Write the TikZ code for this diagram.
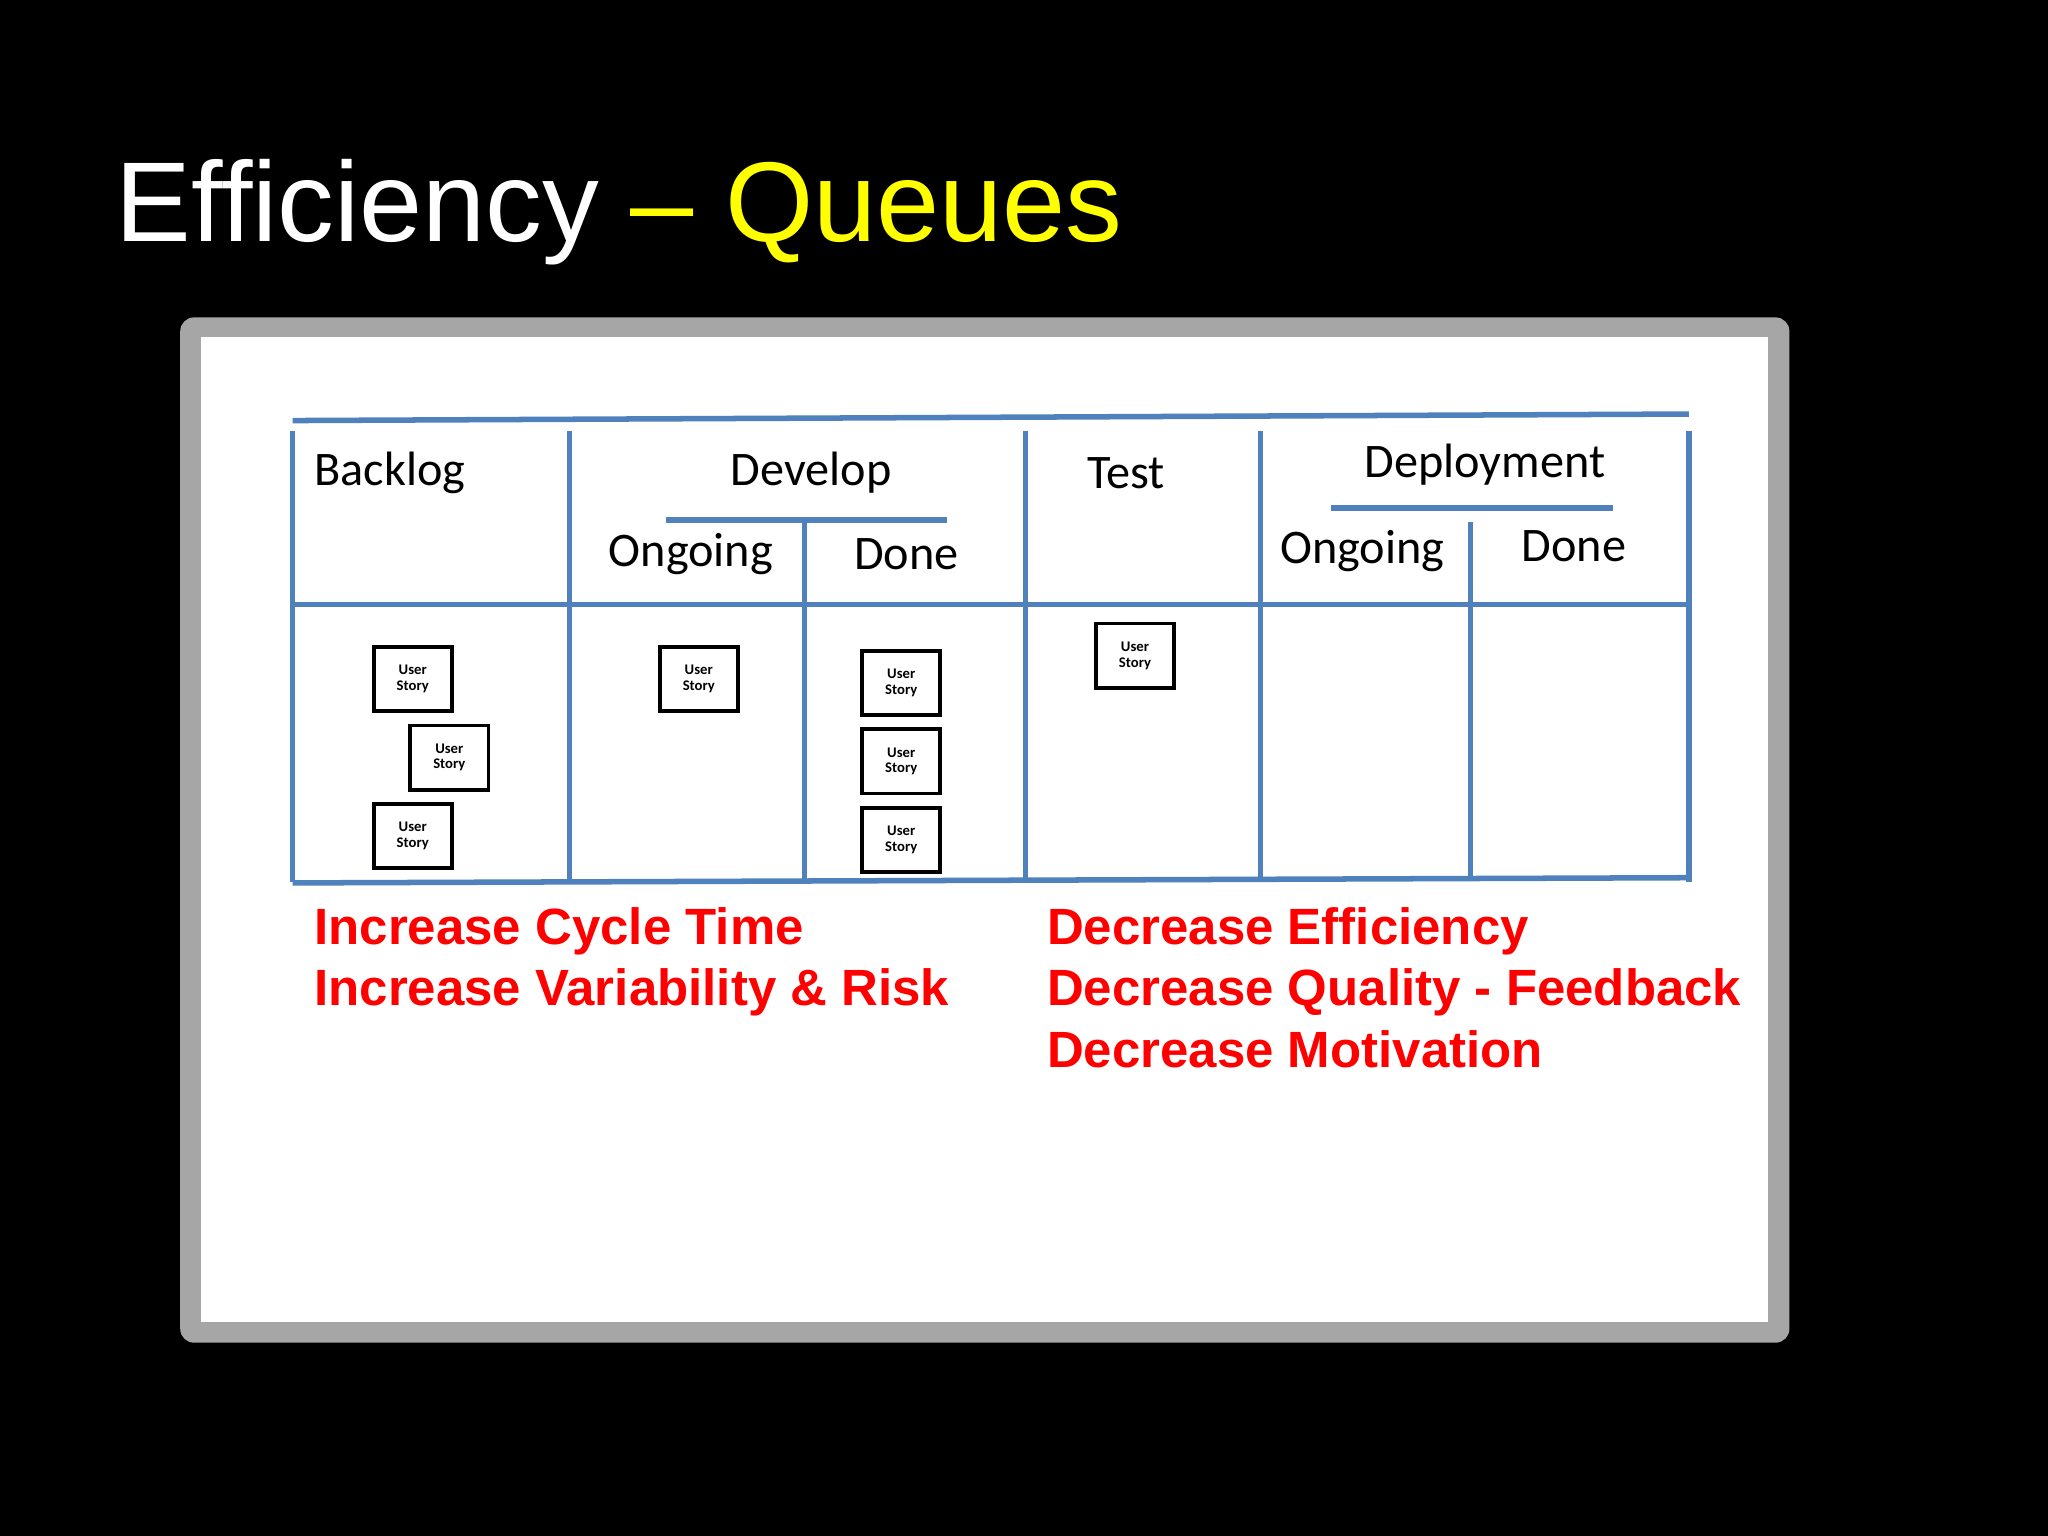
\documentclass[tikz,border=0pt]{standalone}
\usepackage{fontspec}
\setmainfont{Liberation Sans}
\newfontfamily\carlitofont{Carlito}
\definecolor{bl}{HTML}{4F81BD}
\definecolor{fr}{HTML}{A6A6A6}
\definecolor{yl}{HTML}{FFFF00}
\definecolor{rd}{HTML}{FF0000}
\begin{document}
\begin{tikzpicture}[x=0.01cm,y=-0.01cm,
  bline/.style={draw=bl,line width=1.2pt},
  lab/.style={font=\carlitofont\fontsize{10.5}{12}\selectfont,inner sep=0},
  card/.style={draw=black,line width=0.8pt,fill=white,minimum width=17pt,minimum height=14pt,inner sep=0,align=center,font=\carlitofont\bfseries\fontsize{3.2}{3.4}\selectfont},
  red/.style={text=rd,font=\bfseries\fontsize{11.1}{13.4}\selectfont,anchor=north west,align=left,inner sep=0}]
\fill[black] (0,0) rectangle (1568,1176);
\useasboundingbox (0,0) rectangle (1568,1176);
\node[anchor=base west,inner sep=0,text=white,font=\fontsize{24.7}{30}\selectfont] (title) at (88,185) {Efficiency \textcolor{yl}{– Queues}};
\fill[fr,rounded corners=3pt] (138,243) rectangle (1370,1028);
\fill[white] (154,258) rectangle (1354,1012);
% board
\coordinate (tl) at (224,322); \coordinate (tr) at (1293,317);
\draw[bline] (tl) -- (tr);
\foreach \x in {224,436,785,965,1293} \draw[bline] (\x,330) -- (\x,675);
\draw[bline] (224,463) -- (1293,463);
\draw[bline] (224,676) -- (1293,672);
\draw[bline] (616,400) -- (616,676);
\draw[bline] (1126,400) -- (1126,672);
\draw[bline] (510,398) -- (725,398);
\draw[bline] (1019,389) -- (1235,389);
\node[lab,anchor=west] (bk) at (240,362) {Backlog};
\node[lab] (dv) at (621,362) {Develop};
\node[lab] (ts) at (862,362) {Test};
\node[lab] (dp) at (1137,356) {Deployment};
\node[lab] (o1) at (529,424) {Ongoing};
\node[lab] (d1) at (694,424) {Done};
\node[lab] (o2) at (1043,422) {Ongoing};
\node[lab] (d2) at (1205,418) {Done};
\foreach \n/\x/\y in {c1/316/520,c2/344/580,c3/316/640,c4/535/520,c5/690/523,c6/690/583,c7/690/643,c8/869/502}
  \node[card] (\n) at (\x,\y) {User\\Story};
\node[red] (r1) at (240,694) {Increase Cycle Time\\Increase Variability \& Risk};
\node[red] (r2) at (801,694) {Decrease Efficiency\\Decrease Quality - Feedback\\Decrease Motivation};
\end{tikzpicture}
\end{document}
